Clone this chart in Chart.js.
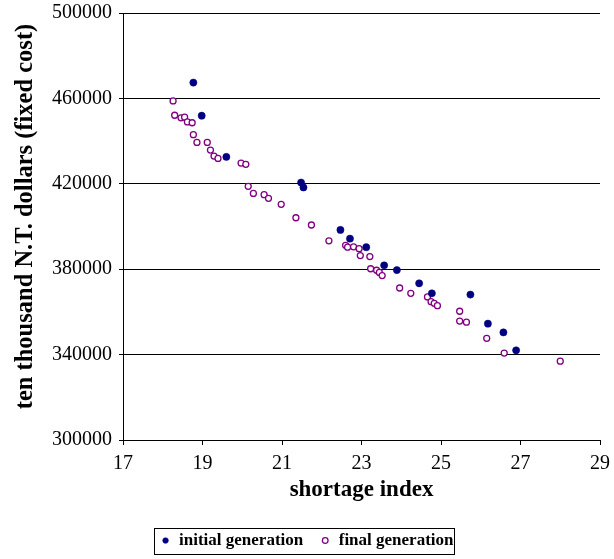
<!DOCTYPE html>
<html>
<head>
<meta charset="utf-8">
<title>Cost vs shortage index</title>
<script src="https://cdn.jsdelivr.net/npm/chart.js@4/dist/chart.umd.min.js"></script>
<style>
  html, body { margin: 0; padding: 0; background: #ffffff; }
  #wrap { width: 614px; height: 559px; position: relative; }
</style>
</head>
<body>
<div id="wrap"><canvas id="chart" width="614" height="559"></canvas></div>
<script>
// Initial generation of solutions
const initialShortage = [18.77, 18.98, 19.60, 21.48, 21.54, 22.47, 22.71, 23.12, 23.57, 23.89, 24.45, 24.77, 25.74, 26.18, 26.57, 26.89];
const initialCost = [467400, 451900, 432600, 420600, 418300, 398400, 394300, 390300, 381800, 379600, 373400, 368700, 368100, 354500, 350400, 342000];

// Final generation of solutions
const finalShortage = [18.26, 18.30, 18.46, 18.55, 18.62, 18.74, 18.77, 18.86, 19.12, 19.20,
  19.29, 19.39, 19.97, 20.09, 20.15, 20.28, 20.55, 20.66, 20.98, 21.35,
  21.74, 22.18, 22.60, 22.65, 22.80, 22.94, 22.97, 23.21, 23.23, 23.38,
  23.45, 23.52, 23.96, 24.24, 24.66, 24.75, 24.83, 24.91, 25.47, 25.47,
  25.64, 26.15, 26.59, 28.00];
const finalCost = [458800, 452100, 450900, 451200, 449000, 448600, 443000, 439400, 439400, 435800,
  433000, 431900, 429700, 429100, 418800, 415500, 414900, 413200, 410400, 404100,
  400700, 393300, 391200, 390300, 390500, 389600, 386400, 385900, 380200, 379500,
  378500, 377000, 371200, 368700, 367000, 364800, 364000, 362900, 360300, 355700,
  355200, 347600, 340700, 336900];

// Axis tick values and titles
const xTickValues = [17, 19, 21, 23, 25, 27, 29];
const yTickValues = [300000, 340000, 380000, 420000, 460000, 500000];
const xTitle = 'shortage index';
const yTitle = 'ten thousand N.T. dollars (fixed cost)';

const toPoints = (xs, ys) => xs.map((x, i) => ({ x: x, y: ys[i] }));

// Thin frame around the legend entries
const legendFrame = {
  id: 'legendFrame',
  afterDraw(chart) {
    const boxes = chart.legend && chart.legend.legendHitBoxes;
    if (!boxes || !boxes.length) return;
    const first = boxes[0];
    const last = boxes[boxes.length - 1];
    const left = Math.round(first.left - 7);
    const right = Math.round(last.left + last.width + 1);
    const cy = first.top + first.height / 2;
    const top = Math.round(cy - 13);
    const ctx = chart.ctx;
    ctx.save();
    ctx.strokeStyle = '#000000';
    ctx.lineWidth = 1;
    ctx.strokeRect(left + 0.5, top + 0.5, right - left, 26);
    ctx.restore();
  }
};

// Vertical axis title, placed a little above the plot's mid-height
const yAxisTitle = {
  id: 'yAxisTitle',
  afterDraw(chart) {
    const ctx = chart.ctx;
    const area = chart.chartArea;
    ctx.save();
    ctx.translate(26, (area.top + area.bottom) / 2 - 10);
    ctx.rotate(-Math.PI / 2);
    ctx.font = "bold 24.5px 'Liberation Serif', 'Times New Roman', serif";
    ctx.fillStyle = '#000000';
    ctx.textAlign = 'center';
    ctx.textBaseline = 'middle';
    ctx.fillText(yTitle, 0, 0);
    ctx.restore();
  }
};

Chart.defaults.font.family = "'Liberation Serif', 'Times New Roman', serif";
Chart.defaults.color = '#000000';

new Chart(document.getElementById('chart'), {
  type: 'scatter',
  data: {
    datasets: [
      {
        label: 'initial generation',
        data: toPoints(initialShortage, initialCost),
        pointStyle: 'circle',
        pointRadius: 3.6,
        pointHoverRadius: 3.6,
        backgroundColor: '#000080',
        borderColor: '#000080',
        borderWidth: 0.5
      },
      {
        label: 'final generation',
        data: toPoints(finalShortage, finalCost),
        pointStyle: 'circle',
        pointRadius: 3,
        pointHoverRadius: 3,
        backgroundColor: '#ffffff',
        borderColor: '#800080',
        borderWidth: 1.3
      }
    ]
  },
  options: {
    responsive: false,
    devicePixelRatio: 1,
    animation: false,
    layout: { padding: { left: 14, right: 14, top: 13, bottom: 0 } },
    plugins: {
      tooltip: { enabled: false },
      legend: {
        position: 'bottom',
        labels: {
          usePointStyle: true,
          boxWidth: 10,
          boxHeight: 4,
          padding: 17,
          color: '#000000',
          font: { size: 17, weight: 'bold' }
        }
      }
    },
    scales: {
      x: {
        type: 'linear',
        min: 17,
        max: 29,
        afterBuildTicks(scale) { scale.ticks = xTickValues.map(v => ({ value: v })); },
        afterFit(scale) {
          scale.height = 75;
          scale.paddingLeft = 0;
          scale.paddingRight = 0;
        },
        ticks: { color: '#000000', font: { size: 20 }, padding: 7, maxRotation: 0, autoSkip: false },
        grid: { drawOnChartArea: false, drawTicks: true, tickLength: 5, color: '#000000', lineWidth: 1 },
        border: { display: true, color: '#000000', width: 1 },
        title: {
          display: true,
          text: xTitle,
          color: '#000000',
          font: { size: 23, weight: 'bold', lineHeight: 1 },
          padding: { top: 0, bottom: 13.5 }
        }
      },
      y: {
        type: 'linear',
        min: 300000,
        max: 500000,
        afterBuildTicks(scale) { scale.ticks = yTickValues.map(v => ({ value: v })); },
        afterFit(scale) {
          scale.width = 109;
          scale.paddingTop = 0;
          scale.paddingBottom = 0;
        },
        ticks: { color: '#000000', font: { size: 20 }, padding: 7, autoSkip: false, callback: v => String(v) },
        grid: { color: '#000000', lineWidth: 1, tickLength: 4, drawTicks: true },
        border: { display: true, color: '#000000', width: 1 },
        title: { display: false }
      }
    }
  },
  plugins: [legendFrame, yAxisTitle]
});
</script>
</body>
</html>
